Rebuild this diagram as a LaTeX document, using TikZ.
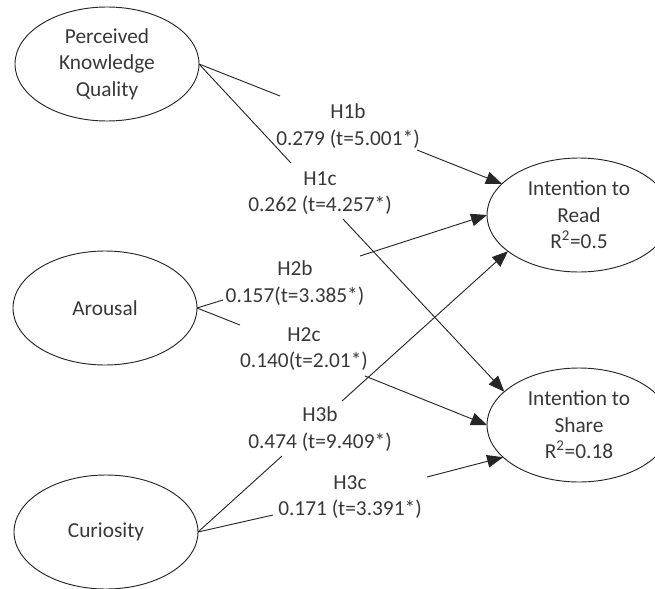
\documentclass[tikz,border=0pt]{standalone}
\usepackage{fontspec}
\setmainfont{Carlito}
\usepackage{tikz}
\usetikzlibrary{arrows.meta,shapes.geometric}

\newcommand{\pathfont}{\fontsize{16}{20}\selectfont}

\tikzset{
  construct/.style = {ellipse, draw=black!85, line width=0.7pt,
    minimum width=138pt, minimum height=85.5pt, inner sep=0pt,
    outer sep=0pt, align=center, text=black!78, font=\pathfont},
  hyp/.style = {draw=black!85, line width=0.7pt},
  hyparrow/.style = {hyp, -{Triangle[length=12pt,width=9.5pt]}},
  hyplabel/.style = {align=center, inner sep=0pt, text=black!78, font=\pathfont},
}

\begin{document}
\begin{tikzpicture}[x=0.75pt,y=-0.75pt]
  \clip (0,0) rectangle (655,588);

  % constructs
  \node[construct] (pkq) at (107,64) {Perceived\\Knowledge\\Quality};
  \node[construct] (arousal) at (105,308) {Arousal};
  \node[construct] (curiosity) at (106,532) {Curiosity};
  \node[construct] (read) at (579,215) {Intention to\\Read\\R\textsuperscript{2}=0.5};
  \node[construct] (share) at (579,425) {Intention to\\Share\\R\textsuperscript{2}=0.18};

  % path coefficients
  \node[hyplabel] (h1b) at (348,126) {H1b\\0.279 (t=5.001*)};
  \node[hyplabel] (h1c) at (320,193) {H1c\\0.262 (t=4.257*)};
  \node[hyplabel] (h2b) at (295,283) {H2b\\0.157(t=3.385*)};
  \node[hyplabel] (h2c) at (304,349) {H2c\\0.140(t=2.01*)};
  \node[hyplabel] (h3b) at (320,429) {H3b\\0.474 (t=9.409*)};
  \node[hyplabel] (h3c) at (350,497) {H3c\\0.171 (t=3.391*)};

  % where the lines break round the labels
  \coordinate (h1b-in) at (280,96);
  \coordinate (h1b-out) at (417,150);
  \coordinate (h1c-in) at (291,163);
  \coordinate (h1c-out) at (343,219);
  \coordinate (h2b-in) at (223,300);
  \coordinate (h2b-out) at (360,256);
  \coordinate (h2c-in) at (240,325);
  \coordinate (h2c-out) at (365,376);
  \coordinate (h3b-in) at (282,456);
  \coordinate (h3b-out) at (342,401);
  \coordinate (h3c-in) at (273,515);
  \coordinate (h3c-out) at (427,477);

  \draw[hyp] (pkq.east) -- (h1b-in);
  \draw[hyparrow] (h1b-out) -- (read.158);
  \draw[hyp] (pkq.east) -- (h1c-in);
  \draw[hyparrow] (h1c-out) -- (share.156.5);

  \draw[hyp] (arousal.east) -- (h2b-in);
  \draw[hyparrow] (h2b-out) -- (read.west);
  \draw[hyp] (arousal.east) -- (h2c-in);
  \draw[hyparrow] (h2c-out) -- (share.west);

  \draw[hyp] (curiosity.east) -- (h3b-in);
  \draw[hyparrow] (h3b-out) -- (read.207);
  \draw[hyp] (curiosity.east) -- (h3c-in);
  \draw[hyparrow] (h3c-out) -- (share.203.4);
\end{tikzpicture}
\end{document}
